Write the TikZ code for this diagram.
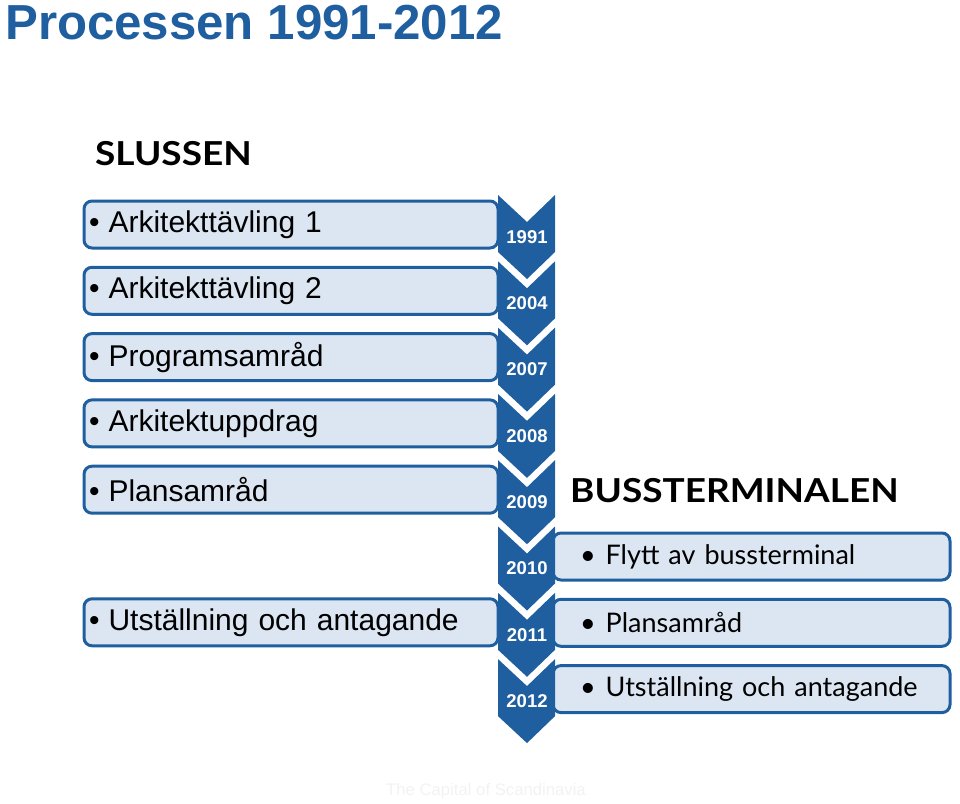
\documentclass[tikz,border=0pt]{standalone}
\usepackage{fontspec}
\setmainfont{Liberation Sans}
\newfontfamily\gillfont{Lato}
\newfontfamily\gillbold[FakeStretch=1.12]{Lato Bold}
\usetikzlibrary{positioning}

\definecolor{procblue}{RGB}{31,95,160}
\definecolor{boxfill}{RGB}{220,230,242}
\definecolor{footgrey}{RGB}{242,242,242}

\begin{document}
\begin{tikzpicture}[x=1pt, y=-1pt]
	\tikzset{leftbox/.style = {draw=procblue, line width=3pt, fill=boxfill, rounded corners=8pt,
		anchor=north west, minimum height=47pt, inner xsep=5pt, text width=404pt, align=left,
		font=\fontsize{30}{36}\selectfont}}
	\tikzset{rightbox/.style = {leftbox, inner xsep=27pt, text width=343pt,
		font=\gillfont\fontsize{27}{32}\selectfont}}
	\tikzset{chevron/.style = {fill=procblue}}
	\tikzset{year/.style = {text=white, font=\bfseries\fontsize{18.5}{20}\selectfont}}
	\useasboundingbox (0,0) rectangle (960,803);
	\node[anchor=base west, inner sep=0, text=procblue, font=\bfseries\fontsize{49.2}{56}\selectfont] (title) at (5,39) {Processen 1991-2012};
	\node[anchor=base west, inner sep=0, font=\gillbold\fontsize{33}{38}\selectfont] (slussen) at (95,165) {SLUSSEN};
	\node[anchor=base west, inner sep=0, font=\gillbold\fontsize{33}{38}\selectfont] (buss) at (570,502) {BUSSTERMINALEN};
	% left boxes
	\foreach \txt [count=\i from 0] in {Arkitekttävling 1, Arkitekttävling 2, Programsamråd, Arkitektuppdrag, Plansamråd}
		\node[leftbox] (s\i) at (82.5, 199.5+66.3*\i) {\textbullet\hspace{9pt}\txt};
	\node[leftbox] (s6) at (82.5, 199.5+66.3*6) {\textbullet\hspace{9pt}Utställning och antagande};
	% right boxes
	\foreach \txt [count=\i from 0] in {Flytt av bussterminal, Plansamråd, Utställning och antagande}
		\node[rightbox] (b\i) at (551.5, 531.5+66.3*\i) {\textbullet\hspace{10pt}\txt};
	% chevrons
	\foreach \yr [count=\i from 0] in {1991,2004,2007,2008,2009,2010,2011,2012} {
		\pgfmathsetmacro{\t}{195+66.3*\i}
		\fill[chevron] (498,\t) -- (527,\t+27) -- (555,\t) -- (555,\t+57) -- (527,\t+84) -- (498,\t+57) -- cycle;
		\node[year] (y\yr) at (527,\t+42) {\yr};
	}
	\node[text=footgrey, font=\fontsize{16.7}{20}\selectfont] (foot) at (486,791) {The Capital of Scandinavia};
\end{tikzpicture}
\end{document}
